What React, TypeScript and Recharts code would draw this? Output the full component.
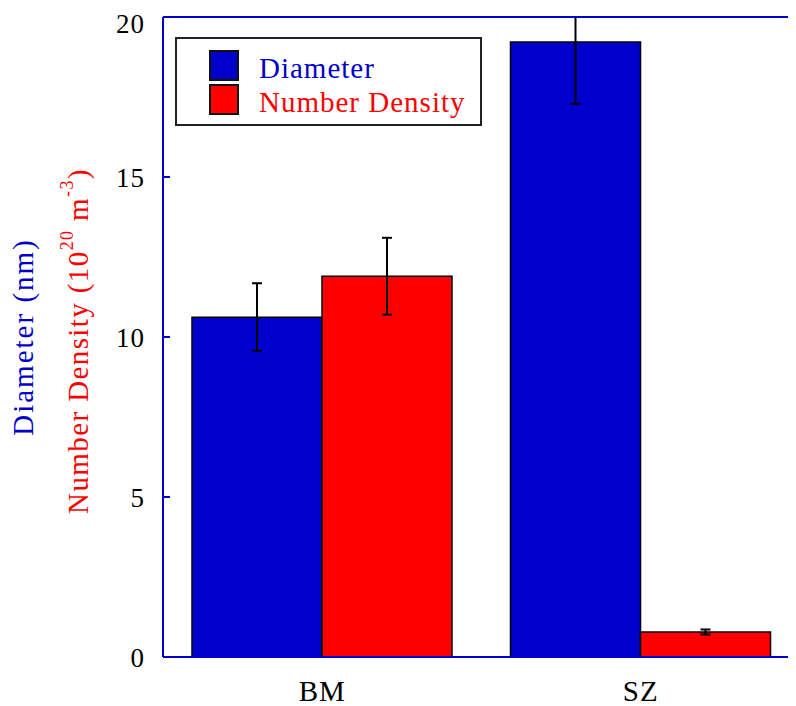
import { BarChart, Bar, XAxis, YAxis, ErrorBar, Legend } from "recharts";

const samples = ["BM", "SZ"];
const diameter = [10.62, 19.22];
const diameterErr = [1.06, 1.93];
const density = [11.9, 0.78];
const densityErr = [1.2, 0.08];
const yTicks = [0, 5, 10, 15, 20];

const BLUE = "#0000cc";
const RED = "#fe0000";
const FONT = "'Liberation Serif', 'Times New Roman', serif";

const data = samples.map((s, i) => ({
  sample: s,
  diameter: diameter[i],
  diameterErr: diameterErr[i],
  density: density[i],
  densityErr: densityErr[i],
}));

const noTick = () => <g />;

// both axis titles, plus a clip rect for the error bars
function AxisTitles() {
  const textStyle = { fontFamily: FONT, fontSize: 29 };
  return (
    <g>
      <defs>
        <clipPath id="plotClip">
          <rect x={150} y={9} width={650} height={645} />
        </clipPath>
      </defs>
      <text
        x={25}
        y={329}
        fill={BLUE}
        style={{ ...textStyle, letterSpacing: 2 }}
        textAnchor="middle"
        transform="rotate(-90, 25, 329)"
      >
        Diameter (nm)
      </text>
      <text
        x={80}
        y={333}
        fill={RED}
        style={{ ...textStyle, letterSpacing: 1.4 }}
        textAnchor="middle"
        transform="rotate(-90, 80, 333)"
      >
        Number Density (10
        <tspan fontSize={18} dy={-15}>20</tspan>
        <tspan dy={15}> m</tspan>
        <tspan fontSize={18} dy={-15}>-3</tspan>
        <tspan dy={15}>)</tspan>
      </text>
    </g>
  );
}

function LegendBox() {
  const swatch = (top: number, color: string) => (
    <div
      style={{
        position: "absolute",
        left: 32,
        top,
        width: 30,
        height: 31,
        boxSizing: "border-box",
        border: "2px solid #111",
        background: color,
      }}
    />
  );
  const label = (top: number, color: string, text: string) => (
    <div
      style={{
        position: "absolute",
        left: 82,
        top,
        color,
        fontFamily: FONT,
        fontSize: 29,
        lineHeight: "29px",
        letterSpacing: 1,
        whiteSpace: "nowrap",
      }}
    >
      {text}
    </div>
  );
  return (
    <div
      style={{
        position: "relative",
        width: 307,
        height: 89,
        boxSizing: "border-box",
        border: "2px solid #222",
        background: "#fff",
      }}
    >
      {swatch(11, BLUE)}
      {swatch(45, RED)}
      {label(15, BLUE, "Diameter")}
      {label(49, RED, "Number Density")}
    </div>
  );
}

const tickFont = { fill: "#000", fontSize: 27, fontFamily: FONT, letterSpacing: 1, style: { fontFamily: FONT } };

export default function App() {
  return (
    <div style={{ width: 788, height: 698, overflow: "hidden", position: "relative", fontFamily: FONT }}>
      <BarChart
        width={810}
        height={698}
        data={data}
        margin={{ top: 9, right: 18, bottom: 0, left: 95 }}
        barGap={0}
        barSize={130}
        style={{ fontFamily: FONT }}
      >
        <XAxis
          xAxisId="cat"
          dataKey="sample"
          height={49}
          axisLine={false}
          tickLine={false}
          tickSize={0}
          tickMargin={23}
          tick={{ ...tickFont, fontSize: 29 }}
        />
        <XAxis
          xAxisId="frame"
          type="number"
          domain={[0, 2]}
          ticks={[0, 1, 2]}
          allowDataOverflow
          mirror
          tickSize={12}
          tick={noTick}
          axisLine={{ stroke: BLUE, strokeWidth: 2 }}
          tickLine={{ stroke: BLUE, strokeWidth: 2 }}
        />
        <XAxis
          xAxisId="top"
          orientation="top"
          type="number"
          domain={[0, 2]}
          allowDataOverflow
          mirror
          tickLine={false}
          tick={noTick}
          axisLine={{ stroke: BLUE, strokeWidth: 2 }}
        />
        <YAxis
          yAxisId="left"
          domain={[0, 20]}
          ticks={yTicks}
          allowDataOverflow
          width={60}
          tickSize={0}
          tickMargin={18}
          tickLine={false}
          axisLine={{ stroke: BLUE, strokeWidth: 2 }}
          tick={tickFont}
          label={<AxisTitles />}
        />
        <YAxis
          yAxisId="leftTicks"
          domain={[0, 20]}
          ticks={yTicks}
          allowDataOverflow
          mirror
          tickSize={7}
          tick={noTick}
          axisLine={false}
          tickLine={{ stroke: BLUE, strokeWidth: 2 }}
        />
        <YAxis
          yAxisId="right"
          orientation="right"
          domain={[0, 20]}
          ticks={yTicks}
          allowDataOverflow
          mirror
          tickSize={10}
          tick={noTick}
          axisLine={{ stroke: BLUE, strokeWidth: 2 }}
          tickLine={{ stroke: BLUE, strokeWidth: 2 }}
        />
        <Legend
          layout="vertical"
          align="center"
          verticalAlign="middle"
          content={() => <LegendBox />}
          wrapperStyle={{ top: 29, left: 167, width: 307, height: 89 }}
        />
        <Bar
          xAxisId="cat"
          yAxisId="left"
          dataKey="diameter"
          name="Diameter"
          fill={BLUE}
          stroke="#000"
          strokeWidth={1.5}
          isAnimationActive={false}
        >
          <ErrorBar
            dataKey="diameterErr"
            width={5}
            strokeWidth={2}
            stroke="#000"
            direction="y"
            clipPath="url(#plotClip)"
          />
        </Bar>
        <Bar
          xAxisId="cat"
          yAxisId="left"
          dataKey="density"
          name="Number Density"
          fill={RED}
          stroke="#000"
          strokeWidth={1.5}
          isAnimationActive={false}
        >
          <ErrorBar
            dataKey="densityErr"
            width={5}
            strokeWidth={2}
            stroke="#000"
            direction="y"
            clipPath="url(#plotClip)"
          />
        </Bar>
      </BarChart>
    </div>
  );
}
